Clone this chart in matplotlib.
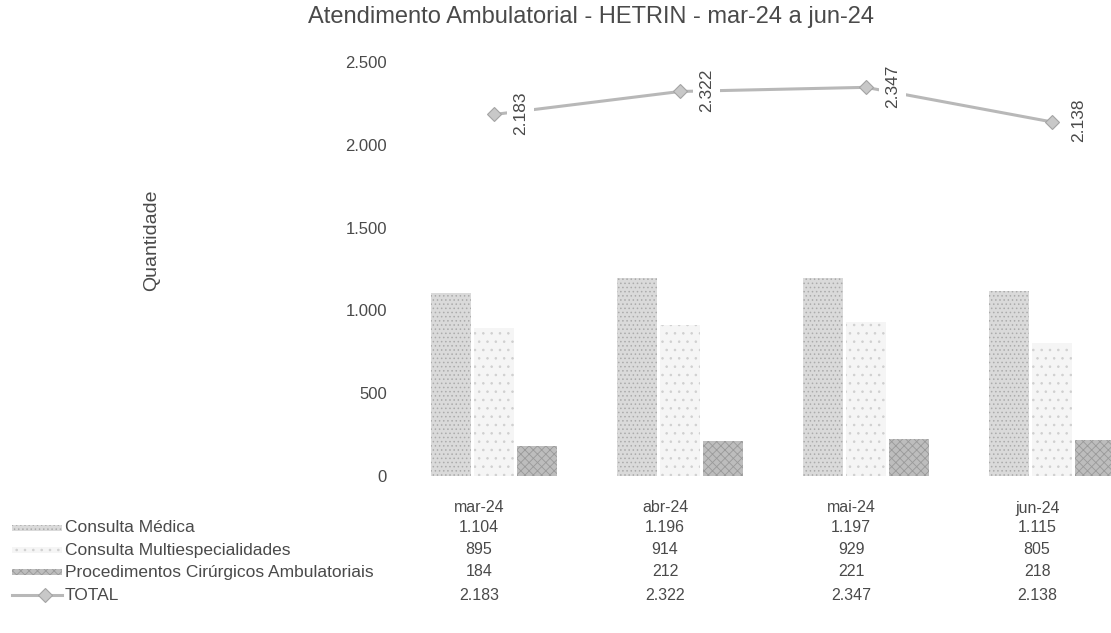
import matplotlib
matplotlib.use("Agg")
import matplotlib.pyplot as plt
import matplotlib.transforms as mtransforms
from matplotlib.patches import Rectangle
from matplotlib.lines import Line2D
import numpy as np

plt.rcParams['font.family'] = ['Liberation Sans', 'DejaVu Sans']
plt.rcParams['hatch.linewidth'] = 0.6

months = ["mar-24", "abr-24", "mai-24", "jun-24"]
consulta_medica = [1104, 1196, 1197, 1115]
consulta_multi = [895, 914, 929, 805]
procedimentos = [184, 212, 221, 218]
total = [2183, 2322, 2347, 2138]
series_names = ["Consulta Médica", "Consulta Multiespecialidades",
                "Procedimentos Cirúrgicos Ambulatoriais", "TOTAL"]
y_ticks = [0, 500, 1000, 1500, 2000, 2500]


def fmt_br(v):
    return f"{v:,.0f}".replace(",", ".")


TXT = "#4a4a4a"
W, H = 1111, 633
fig = plt.figure(figsize=(W / 100, H / 100), dpi=100)
ax = fig.add_axes([401 / W, (H - 476) / H, 744 / W, (476 - 62) / H])

x = np.arange(len(months))
bw = 0.215
off = 0.231
styles = [
    dict(facecolor="#dadada", hatch="....", edgecolor="#ababab"),
    dict(facecolor="#f5f5f5", hatch="..", edgecolor="#cfcfcf"),
    dict(facecolor="#bdbdbd", hatch="xxxx", edgecolor="#9a9a9a"),
]
for i, (vals, st) in enumerate(zip([consulta_medica, consulta_multi, procedimentos], styles)):
    ax.bar(x + (i - 1) * off, vals, width=bw, linewidth=0, zorder=2, **st)

line_color = "#b8b8b8"
ax.plot(x, total, color=line_color, lw=2.2, marker="D", ms=7,
        mfc="#c8c8c8", mec="#a4a4a4", mew=0.8, zorder=3)
for xi, v in zip(x, total):
    ax.annotate(fmt_br(v), (xi, v), xytext=(19, 1), textcoords="offset points",
                rotation=90, ha="center", va="center", fontsize=12.5, color=TXT,
                bbox=dict(boxstyle="square,pad=0.35", fc="white", ec="none"),
                zorder=4)

ax.set_xlim(-0.5, 3.5)
ax.set_ylim(0, 2500)
ax.set_yticks(y_ticks)
ax.set_yticklabels([fmt_br(t) for t in y_ticks], fontsize=12, color=TXT)
ax.tick_params(axis="y", length=0, pad=10)
ax.set_xticks([])
for s in ax.spines.values():
    s.set_visible(False)

fig.text(591 / W, 1 - 17 / H, "Atendimento Ambulatorial - HETRIN - mar-24 a jun-24",
         ha="center", va="center", fontsize=17, color=TXT)
fig.text(152 / W, 1 - 240 / H, "Quantidade", rotation=90, ha="center", va="center",
         fontsize=14, color=TXT)

# data table beneath the chart
blend = mtransforms.blended_transform_factory(ax.transData, fig.transFigure)
header_y = 1 - 508 / H
row_ys = [1 - 528 / H, 1 - 550 / H, 1 - 572 / H, 1 - 595 / H]
for xi, m in zip(x, months):
    fig.text(xi - 0.08, header_y, m, transform=blend, ha="center", va="center",
             fontsize=11.5, color=TXT)
rows = [consulta_medica, consulta_multi, procedimentos, total]
for ry, vals in zip(row_ys, rows):
    for xi, v in zip(x, vals):
        fig.text(xi - 0.08, ry, fmt_br(v), transform=blend, ha="center", va="center",
                 fontsize=11.5, color=TXT)

for k, (ry, name) in enumerate(zip(row_ys, series_names)):
    fig.text(65 / W, ry, name, ha="left", va="center", fontsize=12.5, color=TXT)
    if k < 3:
        st = styles[k]
        fig.patches.append(Rectangle((12 / W, ry - 3 / H), 50 / W, 6 / H,
                                     transform=fig.transFigure, linewidth=0,
                                     **st))
    else:
        fig.lines.append(Line2D([12 / W, 62 / W], [ry, ry], transform=fig.transFigure,
                                color=line_color, lw=2.2))
        fig.lines.append(Line2D([45 / W], [ry], transform=fig.transFigure,
                                marker="D", ms=7, mfc="#c8c8c8", mec="#a4a4a4",
                                mew=0.8, lw=0))

fig.savefig("out.png", dpi=100, facecolor="white")
